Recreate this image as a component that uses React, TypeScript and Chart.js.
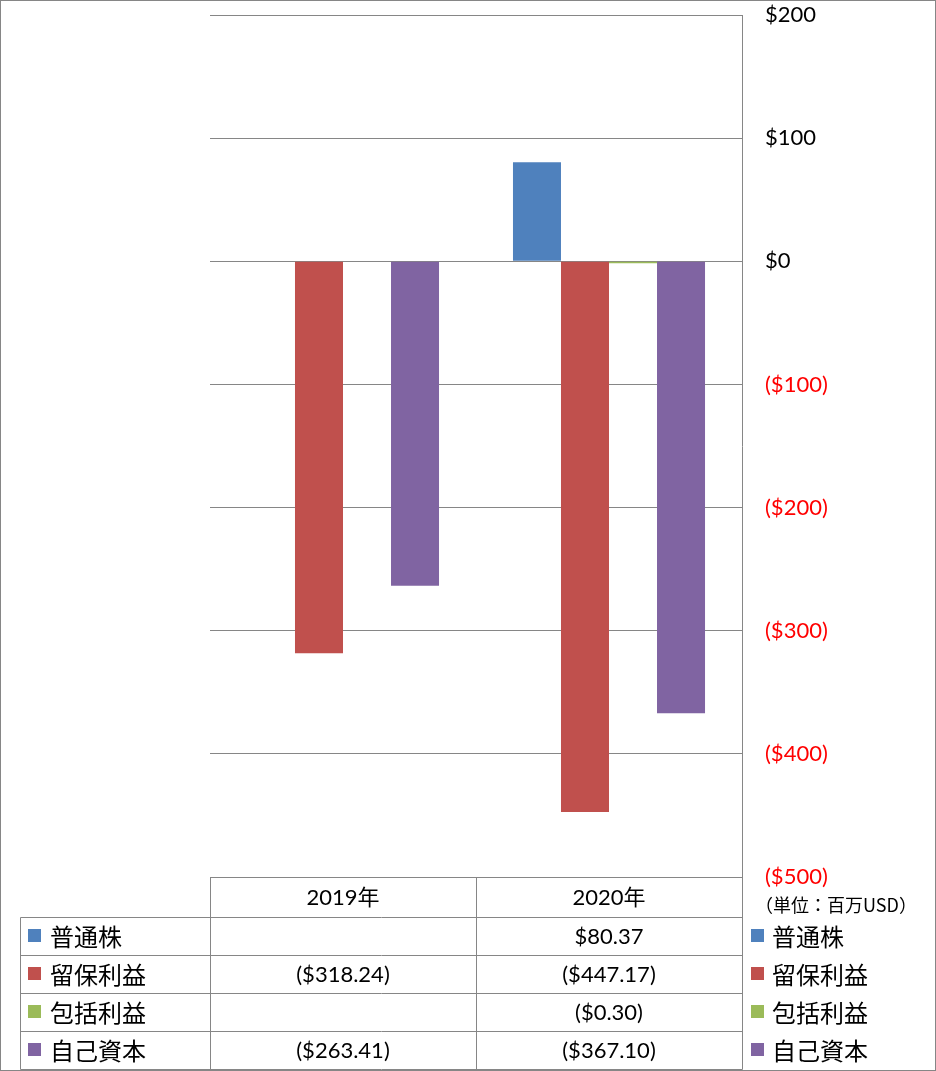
import React, { useEffect, useRef } from "react";
import { Chart, registerables } from "chart.js";

Chart.register(...registerables);

const categories = ["2019年", "2020年"];
const seriesNames = ["普通株", "留保利益", "包括利益", "自己資本"];
const commonStock: (number | null)[] = [null, 80.37];
const retainedEarnings: (number | null)[] = [-318.24, -447.17];
const comprehensiveIncome: (number | null)[] = [null, -0.3];
const treasuryEquity: (number | null)[] = [-263.41, -367.1];
const seriesColors = ["#4F81BD", "#C0504D", "#9BBB59", "#8064A2"];
const yMin = -500;
const yMax = 200;
const yStep = 100;
const unitLabel = "（単位：百万USD）";

const FONT = 'Lato, "Noto Sans CJK JP", sans-serif';
const JP_FONT = '"Noto Sans CJK JP", sans-serif';
const GRID = "#868686";

function fmtMoney(v: number, digits: number) {
  const s = Math.abs(v).toFixed(digits);
  return v < 0 ? `($${s})` : `$${s}`;
}

const tablePlugin = {
  id: "dataTable",
  afterDraw(chart: any) {
    const ctx = chart.ctx as CanvasRenderingContext2D;
    const area = chart.chartArea;
    const W = chart.width;
    const H = chart.height;
    const left = area.left;
    const right = area.right;
    const colW = (right - left) / categories.length;
    const headerTop = area.bottom;
    const headerBottom = headerTop + 40;
    const rowH = 38;
    const legendLeft = 20;
    const allSeries = [commonStock, retainedEarnings, comprehensiveIncome, treasuryEquity];

    ctx.save();
    ctx.strokeStyle = GRID;
    ctx.lineWidth = 1;
    const line = (x1: number, y1: number, x2: number, y2: number) => {
      ctx.beginPath();
      ctx.moveTo(x1, y1);
      ctx.lineTo(x2, y2);
      ctx.stroke();
    };
    const px = (v: number) => Math.round(v) + 0.5;
    const tableBottom = headerBottom + rowH * seriesNames.length;
    line(px(left), px(headerTop), px(right), px(headerTop));
    for (let i = 0; i <= categories.length; i++) {
      const x = px(left + i * colW);
      line(x, px(headerTop), x, px(tableBottom));
    }
    line(px(legendLeft), px(headerBottom), px(legendLeft), px(tableBottom));
    for (let r = 0; r <= seriesNames.length; r++) {
      const y = px(headerBottom + r * rowH);
      line(px(legendLeft), y, px(right), y);
    }
    ctx.strokeRect(0.5, 0.5, W - 1, H - 1);

    ctx.textBaseline = "middle";
    ctx.fillStyle = "#000";
    ctx.font = `22px ${FONT}`;
    ctx.textAlign = "center";
    categories.forEach((c, i) => {
      ctx.fillText(c, left + (i + 0.5) * colW, (headerTop + headerBottom) / 2 + 1);
    });
    seriesNames.forEach((name, r) => {
      const cy = headerBottom + (r + 0.5) * rowH;
      ctx.fillStyle = seriesColors[r];
      ctx.fillRect(28, Math.round(cy) - 7, 13, 13);
      ctx.fillStyle = "#000";
      ctx.textAlign = "left";
      ctx.font = `24px ${JP_FONT}`;
      ctx.fillText(name, 50, cy + 1);
      ctx.fillStyle = seriesColors[r];
      ctx.fillRect(751, Math.round(cy) - 7, 13, 13);
      ctx.fillStyle = "#000";
      ctx.fillText(name, 772, cy + 1);
      ctx.textAlign = "center";
      ctx.font = `22px ${FONT}`;
      allSeries[r].forEach((v, i) => {
        if (v === null || v === undefined) return;
        ctx.fillText(fmtMoney(v, 2), left + (i + 0.5) * colW, cy + 1);
      });
    });
    ctx.textAlign = "center";
    ctx.font = `18px ${JP_FONT}`;
    ctx.fillText(unitLabel, 836, 905);
    ctx.restore();
  },
};

export default function App() {
  const canvasRef = useRef<HTMLCanvasElement>(null);

  useEffect(() => {
    document.body.style.margin = "0";
    const canvas = canvasRef.current;
    if (!canvas) return;
    const datasets = [commonStock, retainedEarnings, comprehensiveIncome, treasuryEquity].map(
      (data, i) => ({
        label: seriesNames[i],
        data,
        backgroundColor: seriesColors[i],
        borderWidth: 0,
        barPercentage: 1,
        categoryPercentage: 0.722,
        minBarLength: i === 2 ? 2 : 0,
      })
    );
    const chart = new Chart(canvas, {
      type: "bar",
      data: { labels: categories, datasets: datasets as any },
      options: {
        responsive: false,
        animation: false,
        devicePixelRatio: 1,
        layout: { padding: { left: 210, top: 15, bottom: 194, right: 0 } },
        plugins: {
          legend: { display: false },
          tooltip: { enabled: false },
        },
        scales: {
          x: { display: false },
          y: {
            position: "right",
            min: yMin,
            max: yMax,
            afterFit(scale: any) {
              scale.width = 194;
              scale.paddingTop = 0;
              scale.paddingBottom = 0;
            },
            border: { display: true, color: GRID, width: 1 },
            grid: { color: GRID, lineWidth: 1, drawTicks: false },
            ticks: {
              stepSize: yStep,
              padding: 23,
              font: { family: FONT, size: 22 },
              color: (c: any) => (c.tick && c.tick.value < 0 ? "#FF0000" : "#000000"),
              callback: (v: any) => fmtMoney(Number(v), 0),
            },
          },
        },
      },
      plugins: [tablePlugin],
    });
    return () => chart.destroy();
  }, []);

  return (
    <div style={{ width: 936, height: 1071 }}>
      <canvas ref={canvasRef} width={936} height={1071} style={{ display: "block" }} />
    </div>
  );
}
